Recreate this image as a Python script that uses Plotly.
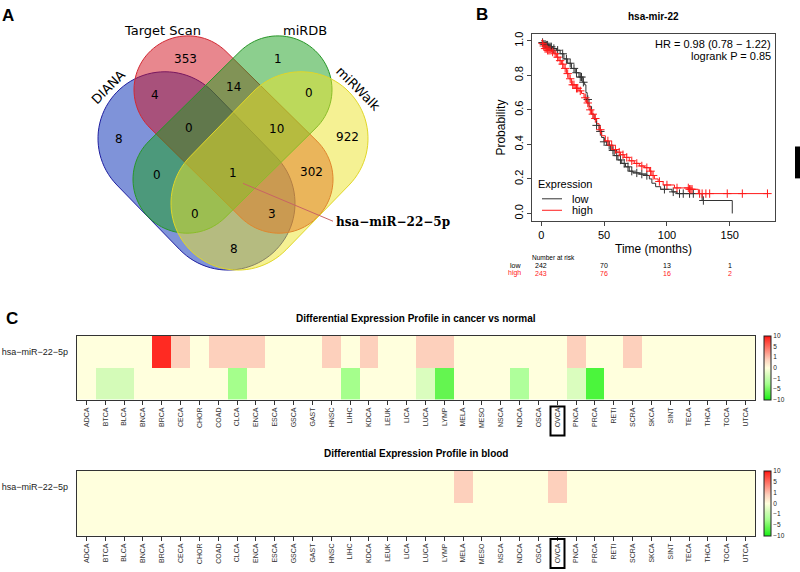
import numpy as np
import plotly.graph_objects as go

W, H = 800, 572

# ---------------- data ----------------
venn_sets = ["DIANA", "Target Scan", "miRDB", "miRWalk"]
venn_counts = [353, 1, 4, 14, 0, 8, 0, 10, 922, 0, 1, 302, 0, 3, 8]
venn_target = "hsa\u2212miR\u221222\u22125p"

km_title = "hsa-mir-22"
low_t = [0, 1, 2, 4, 6, 9, 12, 15, 18, 21, 24, 27, 30, 33, 34.5, 35.5, 36.5, 38, 40, 42, 44, 46, 48, 50, 52,
         55, 58, 61, 64, 67, 70, 73, 78, 84, 86, 88, 91, 95, 104, 108, 128, 152]
low_s = [1.0, 0.99, 0.98, 0.975, 0.965, 0.955, 0.945, 0.925, 0.895, 0.87, 0.84, 0.815, 0.79, 0.76, 0.745, 0.70,
         0.66, 0.62, 0.575, 0.545, 0.51, 0.475, 0.44, 0.415, 0.395, 0.365, 0.335, 0.31, 0.29, 0.27, 0.245, 0.235,
         0.228, 0.22, 0.20, 0.175, 0.155, 0.14, 0.125, 0.115, 0.075, 0.0]
high_t = [0, 1, 2, 3, 5, 8, 10, 12, 14, 16, 18, 20, 22, 24, 27, 30, 32, 34, 36, 38, 40, 42, 44, 46, 48, 51, 54,
          57, 60, 63, 66, 70, 74, 78, 82, 86, 88, 90, 93, 97, 106, 118, 125, 180]
high_s = [1.0, 0.985, 0.97, 0.955, 0.945, 0.935, 0.925, 0.905, 0.885, 0.865, 0.84, 0.81, 0.78, 0.745, 0.725,
          0.71, 0.695, 0.67, 0.64, 0.60, 0.575, 0.55, 0.52, 0.485, 0.45, 0.42, 0.395, 0.37, 0.355, 0.34, 0.325,
          0.305, 0.29, 0.275, 0.265, 0.245, 0.22, 0.20, 0.185, 0.165, 0.148, 0.14, 0.115, 0.115]
low_censor = [1, 2, 3, 4, 5, 6, 7, 8, 10, 13, 17, 20, 23, 26, 28, 31, 32, 33.5, 37, 44, 47, 50, 54, 57, 60, 63,
              66, 69, 72, 76, 80, 84, 98, 105, 110, 113, 118, 121, 129]
high_censor = [1, 2, 3, 4, 5, 6, 7, 9, 11, 13, 15, 17, 19, 21, 23, 25, 26, 28, 29, 31, 35, 37, 39, 41, 43, 47,
               53, 56, 59, 62, 65, 68, 72, 76, 80, 84, 87, 89, 94, 100, 108, 117, 118, 119, 120, 126, 128, 131,
               134, 148, 160, 180]
risk_times = [0, 50, 100, 150]
risk_low = [242, 70, 13, 1]
risk_high = [243, 76, 16, 2]
hr_text = "HR = 0.98 (0.78 \u2212 1.22)"
p_text = "logrank P = 0.85"

cancer_types = ["ADCA", "BTCA", "BLCA", "BNCA", "BRCA", "CECA", "CHOR", "COAD", "CLCA", "ENCA", "ESCA", "GSCA",
                "GAST", "HNSC", "LIHC", "KDCA", "LEUK", "LICA", "LUCA", "LYMP", "MELA", "MESO", "NSCA", "NDCA",
                "OSCA", "OVCA", "PNCA", "PRCA", "RETI", "SCRA", "SKCA", "SINT", "TECA", "THCA", "TOCA", "UTCA"]
# colour levels (-3 .. 3 on the legend scale)
cancer_up = [0, 0, 0, 0, 2.8, 0.8, 0, 0.8, 0.8, 0.8, 0, 0, 0, 0.8, 0, 0.8, 0, 0, 0.8, 0.8, 0, 0, 0, 0,
             0, 0, 0.8, 0, 0, 0.8, 0, 0, 0, 0, 0, 0]
cancer_down = [0, -0.7, -0.7, 0, 0, 0, 0, 0, -1.5, 0, 0, 0, 0, 0, -1.5, 0, 0, 0, -0.6, -2.2, 0, 0, 0, -1.3,
               0, 0, -0.6, -2.5, 0, 0, 0, 0, 0, 0, 0, 0]
blood_up = [0, 0, 0, 0, 0, 0, 0, 0, 0, 0, 0, 0, 0, 0, 0, 0, 0, 0, 0, 0, 0.8, 0, 0, 0,
            0, 0.8, 0, 0, 0, 0, 0, 0, 0, 0, 0, 0]
blood_down = [0] * 36
scale_vals = [3, 2, 1, 0, -1, -2, -3]
scale_text = ["10", "5", "1", "0", "\u22121", "\u22125", "\u221210"]
mirna = "hsa\u2212miR\u221222\u22125p"
heat_titles = ["Differential Expression Profile in cancer vs normal", "Differential Expression Profile in blood"]

# ---------------- helpers ----------------
def px(x):
    return x / W


def py(y):
    return 1 - y / H


def stadium(c1, c2, r, n=48):
    c1 = np.array(c1, float)
    c2 = np.array(c2, float)
    d = c2 - c1
    ang = np.arctan2(d[1], d[0])
    pts = []
    for a in np.linspace(ang - np.pi / 2, ang + np.pi / 2, n):
        pts.append(c2 + r * np.array([np.cos(a), np.sin(a)]))
    for a in np.linspace(ang + np.pi / 2, ang + 3 * np.pi / 2, n):
        pts.append(c1 + r * np.array([np.cos(a), np.sin(a)]))
    return "M " + " L ".join(f"{px(x):.5f},{py(y):.5f}" for x, y in pts) + " Z"


FONT = "Liberation Sans, Arial, sans-serif"
fig = go.Figure()
shapes = []
ann = []


def note(x, y, text, size, color="black", family=None, xanchor="center", textangle=0, xref="paper"):
    f = dict(size=size, color=color)
    if family:
        f["family"] = family
    ann.append(dict(x=(px(x) if xref == "paper" else x), y=py(y), xref=xref, yref="paper", text=text,
                    showarrow=False, xanchor=xanchor, yanchor="middle", textangle=textangle, font=f,
                    borderpad=0))


# ---------------- Panel A: Venn ----------------
venn_geom = [  # c1, c2, r, fill, line
    ((165, 137), (228, 202), 67, "rgba(0,40,180,0.5)", "rgb(30,30,160)"),
    ((188, 88), (279, 178), 54, "rgba(210,15,30,0.5)", "rgb(210,40,50)"),
    ((278, 88), (187, 178), 54, "rgba(25,160,30,0.5)", "rgb(40,150,40)"),
    ((301, 137), (238, 202), 67, "rgba(235,228,40,0.5)", "rgb(225,215,40)"),
]
for c1, c2, r, fc, lc in venn_geom:
    shapes.append(dict(type="path", xref="paper", yref="paper", path=stadium(c1, c2, r),
                       fillcolor=fc, line=dict(color=lc, width=1)))

count_pos = [(185, 57), (278, 57), (155, 93), (233, 85), (309, 91), (119, 137), (189, 126), (276, 127),
             (347, 135), (157, 174), (233, 172), (311, 171), (195, 213), (272, 213), (234, 248)]
for v, (x, y) in zip(venn_counts, count_pos):
    note(x, y, str(v), 12, family="DejaVu Sans")
label_pos = [(108, 86, -45), (162, 29, 0), (305, 29, 0), (358, 87, 45)]
for name, (x, y, a) in zip(venn_sets, label_pos):
    note(x, y, name, 13, family="DejaVu Sans", textangle=a)
shapes.append(dict(type="line", xref="paper", yref="paper", x0=px(243), y0=py(182), x1=px(333), y1=py(220),
                   line=dict(color="rgb(200,100,100)", width=1)))
note(335, 221, "<b>" + venn_target + "</b>", 12, family="DejaVu Serif", xanchor="left")

# ---------------- Panel B: KM ----------------
def step_at(ts, ss, t):
    i = np.searchsorted(np.array(ts), t, side="right") - 1
    return ss[i]


fig.add_trace(go.Scatter(x=low_t, y=low_s, mode="lines", line=dict(color="#333333", width=1, shape="hv"),
                         xaxis="x2", yaxis="y2", showlegend=False, hoverinfo="skip"))
fig.add_trace(go.Scatter(x=high_t, y=high_s, mode="lines", line=dict(color="#ff1a1a", width=1, shape="hv"),
                         xaxis="x2", yaxis="y2", showlegend=False, hoverinfo="skip"))
fig.add_trace(go.Scatter(x=low_censor, y=[step_at(low_t, low_s, t) for t in low_censor], mode="markers",
                         marker=dict(symbol="cross-thin", size=6, line=dict(color="#333333", width=1)),
                         xaxis="x2", yaxis="y2", showlegend=False, hoverinfo="skip"))
fig.add_trace(go.Scatter(x=high_censor, y=[step_at(high_t, high_s, t) for t in high_censor], mode="markers",
                         marker=dict(symbol="cross-thin", size=6, line=dict(color="#ff1a1a", width=1)),
                         xaxis="x2", yaxis="y2", showlegend=False, hoverinfo="skip"))

note(653, 15, "<b>" + km_title + "</b>", 10)
note(772, 42, hr_text, 11, xanchor="right")
note(772, 54, p_text, 11, xanchor="right")
# legend
note(537, 183, "Expression", 11, xanchor="left")
for lab, col, yy in [("low", "#333333", 197.5), ("high", "#ff1a1a", 209)]:
    shapes.append(dict(type="line", xref="paper", yref="paper", x0=px(542), x1=px(562), y0=py(yy), y1=py(yy),
                       line=dict(color=col, width=1)))
    note(571, yy, lab, 11, xanchor="left")
# number at risk
note(531, 256, "Number at risk", 6.5, xanchor="left")
note(522, 264, "low", 7, xanchor="right")
note(522, 272, "high", 7, color="#ff1a1a", xanchor="right")
for t, a, b in zip(risk_times, risk_low, risk_high):
    note(t, 264, str(a), 7, xref="x2")
    note(t, 272, str(b), 7, color="#ff1a1a", xref="x2")

# ---------------- Panel C: heatmaps ----------------
levels = [-3, -2.5, -2.2, -1.5, -1.3, -0.7, -0.6, 0, 0.8, 2.8, 3]
cols = ["rgb(20,240,20)", "rgb(75,245,60)", "rgb(100,245,80)", "rgb(165,255,140)", "rgb(175,255,155)",
        "rgb(212,251,184)", "rgb(218,253,190)", "rgb(255,255,221)", "rgb(253,208,188)", "rgb(255,42,34)",
        "rgb(255,0,0)"]
cscale = [[(lv + 3) / 6, c] for lv, c in zip(levels, cols)]

heat_rows = [(cancer_down, cancer_up, "x3", "y3", 335, 399, 406, 435),
             (blood_down, blood_up, "x4", "y4", 470.5, 535.5, 539, 568)]
for k, (dn, up, xa, ya, top, bot, b0, b1) in enumerate(heat_rows):
    fig.add_trace(go.Heatmap(x=cancer_types, y=[0, 1], z=[dn, up], xaxis=xa, yaxis=ya, zmin=-3, zmax=3,
                             colorscale=cscale, hoverinfo="skip",
                             colorbar=dict(x=px(764), xanchor="left", y=py((top + bot) / 2), yanchor="middle",
                                           len=bot - top, lenmode="pixels", thickness=7,
                                           thicknessmode="pixels", outlinewidth=1, outlinecolor="#222",
                                           tickvals=scale_vals, ticktext=scale_text, ticks="",
                                           tickfont=dict(size=6.5, color="#222"), xpad=0, ypad=0)))
    note(416, top - 17, "<b>" + heat_titles[k] + "</b>", 10)
    shapes.append(dict(type="rect", xref="paper", yref="paper", x0=px(550.5), x1=px(564.5), y0=py(b0),
                       y1=py(b1), line=dict(color="black", width=2)))

# panel letters
for lt, (x, y) in zip(["A", "B", "C"], [(8, 14), (482, 13), (12, 318)]):
    note(x, y, "<b>" + lt + "</b>", 17)
# cropped neighbour panel edge
shapes.append(dict(type="rect", xref="paper", yref="paper", x0=px(795), x1=px(801), y0=py(145), y1=py(177),
                   fillcolor="black", line=dict(width=0)))

km_ax = dict(showline=True, mirror=True, linecolor="#444", linewidth=1, showgrid=False, zeroline=False,
             ticks="outside", ticklen=4, tickcolor="#444", tickfont=dict(size=11, color="black"))
heat_x = dict(showline=True, mirror=True, linecolor="#333", linewidth=1.2, showgrid=False, zeroline=False,
              ticks="outside", ticklen=4, tickcolor="#333", tickangle=-90, type="category",
              tickfont=dict(size=7, color="#333"))
heat_y = dict(showline=True, mirror=True, linecolor="#333", linewidth=1.2, showgrid=False, zeroline=False,
              range=[-0.5, 1.5], tickvals=[1], ticktext=[mirna], ticks="outside", ticklen=6,
              tickcolor="rgba(0,0,0,0)", tickfont=dict(size=9, color="#222"))

fig.update_layout(
    width=W, height=H, margin=dict(l=0, r=0, t=0, b=0), paper_bgcolor="white", plot_bgcolor="white",
    font=dict(family=FONT, color="black"), showlegend=False,
    xaxis=dict(visible=False, domain=[0, 0.01]), yaxis=dict(visible=False, domain=[0, 0.01]),
    xaxis2=dict(km_ax, domain=[px(532), px(775)], range=[-7.4, 186], tickvals=[0, 50, 100, 150], anchor="y2",
                title=dict(text="Time (months)", font=dict(size=12), standoff=4)),
    yaxis2=dict(km_ax, domain=[py(220), py(32)], range=[-0.045, 1.04], tickvals=[0, 0.2, 0.4, 0.6, 0.8, 1.0],
                ticktext=["0.0", "0.2", "0.4", "0.6", "0.8", "1.0"], tickangle=-90, anchor="x2",
                title=dict(text="Probability", font=dict(size=12), standoff=4)),
    xaxis3=dict(heat_x, domain=[px(77), px(755)], anchor="y3"),
    yaxis3=dict(heat_y, domain=[py(399), py(335)], anchor="x3"),
    xaxis4=dict(heat_x, domain=[px(77), px(755)], anchor="y4"),
    yaxis4=dict(heat_y, domain=[py(535.5), py(470.5)], anchor="x4"),
    shapes=shapes, annotations=ann,
)
fig.write_html("out.html", config={"displayModeBar": False},
               post_script="document.body.style.margin='0px';document.body.style.overflow='hidden';")
